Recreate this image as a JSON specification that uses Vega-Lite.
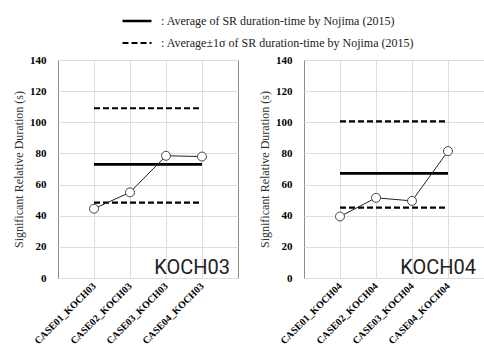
{
  "$schema": "https://vega.github.io/schema/vega-lite/v6.json",
  "background": "white",
  "padding": {"left": 12, "top": 4, "right": 0, "bottom": 0},
  "spacing": 66,
  "bounds": "flush",
  "config": {
    "font": "Liberation Serif",
    "view": {"stroke": "#8c8c8c", "strokeWidth": 1},
    "axis": {"labelFont": "Liberation Serif", "titleFont": "Liberation Serif", "labelOverlap": false},
    "legend": {"labelFont": "Liberation Serif"}
  },
  "datasets": {
    "pts03": [
      {"case": "CASE01_KOCH03", "value": 44.5},
      {"case": "CASE02_KOCH03", "value": 55},
      {"case": "CASE03_KOCH03", "value": 78.5},
      {"case": "CASE04_KOCH03", "value": 78}
    ],
    "pts04": [
      {"case": "CASE01_KOCH04", "value": 39.5},
      {"case": "CASE02_KOCH04", "value": 51.5},
      {"case": "CASE03_KOCH04", "value": 49.5},
      {"case": "CASE04_KOCH04", "value": 81.5}
    ],
    "ref03": [
      {"kind": ": Average of SR duration-time by Nojima (2015)", "case": "CASE01_KOCH03", "end": "CASE04_KOCH03", "value": 73},
      {"kind": ": Average±1σ of SR duration-time by Nojima (2015)", "case": "CASE01_KOCH03", "end": "CASE04_KOCH03", "value": 109},
      {"kind": ": Average±1σ of SR duration-time by Nojima (2015)", "case": "CASE01_KOCH03", "end": "CASE04_KOCH03", "value": 48.4}
    ],
    "ref04": [
      {"kind": ": Average of SR duration-time by Nojima (2015)", "case": "CASE01_KOCH04", "end": "CASE04_KOCH04", "value": 67.2},
      {"kind": ": Average±1σ of SR duration-time by Nojima (2015)", "case": "CASE01_KOCH04", "end": "CASE04_KOCH04", "value": 100.6},
      {"kind": ": Average±1σ of SR duration-time by Nojima (2015)", "case": "CASE01_KOCH04", "end": "CASE04_KOCH04", "value": 45.2}
    ],
    "tag03": [{"label": "KOCH03", "case": "CASE04_KOCH03", "value": 0}],
    "tag04": [{"label": "KOCH04", "case": "CASE04_KOCH04", "value": 0}]
  },
  "resolve": {"scale": {"x": "independent", "y": "independent", "strokeDash": "independent", "strokeWidth": "independent"}, "legend": {"strokeDash": "independent"}},
  "hconcat": [
    {
      "width": 180, "height": 218,
      "encoding": {
        "x": {"field": "case", "type": "nominal",
          "scale": {"type": "point", "padding": 1, "domain": ["CASE01_KOCH03", "CASE02_KOCH03", "CASE03_KOCH03", "CASE04_KOCH03"]},
          "axis": {"title": null, "grid": true, "gridColor": "#dedede", "domain": false, "ticks": false, "labelOverlap": false, "labelLimit": 0,
            "labelFont": "Liberation Serif", "labelFontWeight": "bold", "labelColor": "#000",
            "labelAngle": -45, "labelAlign": "right", "labelBaseline": "middle", "labelFontSize": 10, "labelPadding": 6}},
        "y": {"field": "value", "type": "quantitative",
          "scale": {"domain": [0, 140]},
          "axis": {"title": "Significant Relative Duration (s)", "values": [0, 20, 40, 60, 80, 100, 120, 140], "tickCount": 8,
            "grid": true, "gridColor": "#dedede", "domain": false, "ticks": false, "labelOverlap": false, "labelFlush": false,
            "labelFont": "Liberation Serif", "labelFontWeight": "bold", "labelColor": "#000",
            "titleFont": "Liberation Serif", "titleFontWeight": "normal", "titleColor": "#333",
            "labelFontSize": 11, "labelPadding": 12, "titleFontSize": 12, "titlePadding": 4}}
      },
      "layer": [
        {
          "data": {"name": "ref03"},
          "mark": {"type": "rule", "color": "#000"},
          "encoding": {
            "x2": {"field": "end"},
            "strokeDash": {"field": "kind", "type": "nominal",
              "scale": {"domain": [": Average of SR duration-time by Nojima (2015)", ": Average±1σ of SR duration-time by Nojima (2015)"], "range": [[1, 0], [6, 3]]},
              "legend": {"orient": "none", "legendX": 63, "legendY": -55, "direction": "vertical", "title": null,
                "symbolType": "stroke", "symbolSize": 841, "symbolStrokeWidth": 3, "symbolStrokeColor": "#000",
                "labelFont": "Liberation Serif", "labelFontSize": 12, "labelColor": "#222", "labelOffset": 8, "labelLimit": 0, "rowPadding": -7}},
            "strokeWidth": {"field": "kind", "type": "nominal",
              "scale": {"domain": [": Average of SR duration-time by Nojima (2015)", ": Average±1σ of SR duration-time by Nojima (2015)"], "range": [2.6, 2.2]},
              "legend": null}
          }
        },
        {
          "data": {"name": "pts03"},
          "mark": {"type": "line", "color": "#222", "strokeWidth": 1},
          "encoding": {}
        },
        {
          "data": {"name": "pts03"},
          "mark": {"type": "point", "shape": "circle", "filled": false, "fill": "white", "fillOpacity": 1, "stroke": "#444", "strokeWidth": 1, "opacity": 1, "size": 80},
          "encoding": {}
        },
        {
          "data": {"name": "tag03"},
          "mark": {"type": "text", "align": "right", "baseline": "alphabetic", "dx": 28, "dy": -4, "font": "Roboto", "fontSize": 20, "color": "#222"},
          "encoding": {"text": {"field": "label"}}
        }
      ]
    },
    {
      "width": 180, "height": 218,
      "encoding": {
        "x": {"field": "case", "type": "nominal",
          "scale": {"type": "point", "padding": 1, "domain": ["CASE01_KOCH04", "CASE02_KOCH04", "CASE03_KOCH04", "CASE04_KOCH04"]},
          "axis": {"title": null, "grid": true, "gridColor": "#dedede", "domain": false, "ticks": false, "labelOverlap": false, "labelLimit": 0,
            "labelFont": "Liberation Serif", "labelFontWeight": "bold", "labelColor": "#000",
            "labelAngle": -45, "labelAlign": "right", "labelBaseline": "middle", "labelFontSize": 10, "labelPadding": 6}},
        "y": {"field": "value", "type": "quantitative",
          "scale": {"domain": [0, 140]},
          "axis": {"title": "Significant Relative Duration (s)", "values": [0, 20, 40, 60, 80, 100, 120, 140], "tickCount": 8,
            "grid": true, "gridColor": "#dedede", "domain": false, "ticks": false, "labelOverlap": false, "labelFlush": false,
            "labelFont": "Liberation Serif", "labelFontWeight": "bold", "labelColor": "#000",
            "titleFont": "Liberation Serif", "titleFontWeight": "normal", "titleColor": "#333",
            "labelFontSize": 11, "labelPadding": 12, "titleFontSize": 12, "titlePadding": 4}}
      },
      "layer": [
        {
          "data": {"name": "ref04"},
          "mark": {"type": "rule", "color": "#000"},
          "encoding": {
            "x2": {"field": "end"},
            "strokeDash": {"field": "kind", "type": "nominal",
              "scale": {"domain": [": Average of SR duration-time by Nojima (2015)", ": Average±1σ of SR duration-time by Nojima (2015)"], "range": [[1, 0], [6, 3]]},
              "legend": null},
            "strokeWidth": {"field": "kind", "type": "nominal",
              "scale": {"domain": [": Average of SR duration-time by Nojima (2015)", ": Average±1σ of SR duration-time by Nojima (2015)"], "range": [2.6, 2.2]},
              "legend": null}
          }
        },
        {
          "data": {"name": "pts04"},
          "mark": {"type": "line", "color": "#222", "strokeWidth": 1},
          "encoding": {}
        },
        {
          "data": {"name": "pts04"},
          "mark": {"type": "point", "shape": "circle", "filled": false, "fill": "white", "fillOpacity": 1, "stroke": "#444", "strokeWidth": 1, "opacity": 1, "size": 80},
          "encoding": {}
        },
        {
          "data": {"name": "tag04"},
          "mark": {"type": "text", "align": "right", "baseline": "alphabetic", "dx": 28, "dy": -4, "font": "Roboto", "fontSize": 20, "color": "#222"},
          "encoding": {"text": {"field": "label"}}
        }
      ]
    }
  ]
}
